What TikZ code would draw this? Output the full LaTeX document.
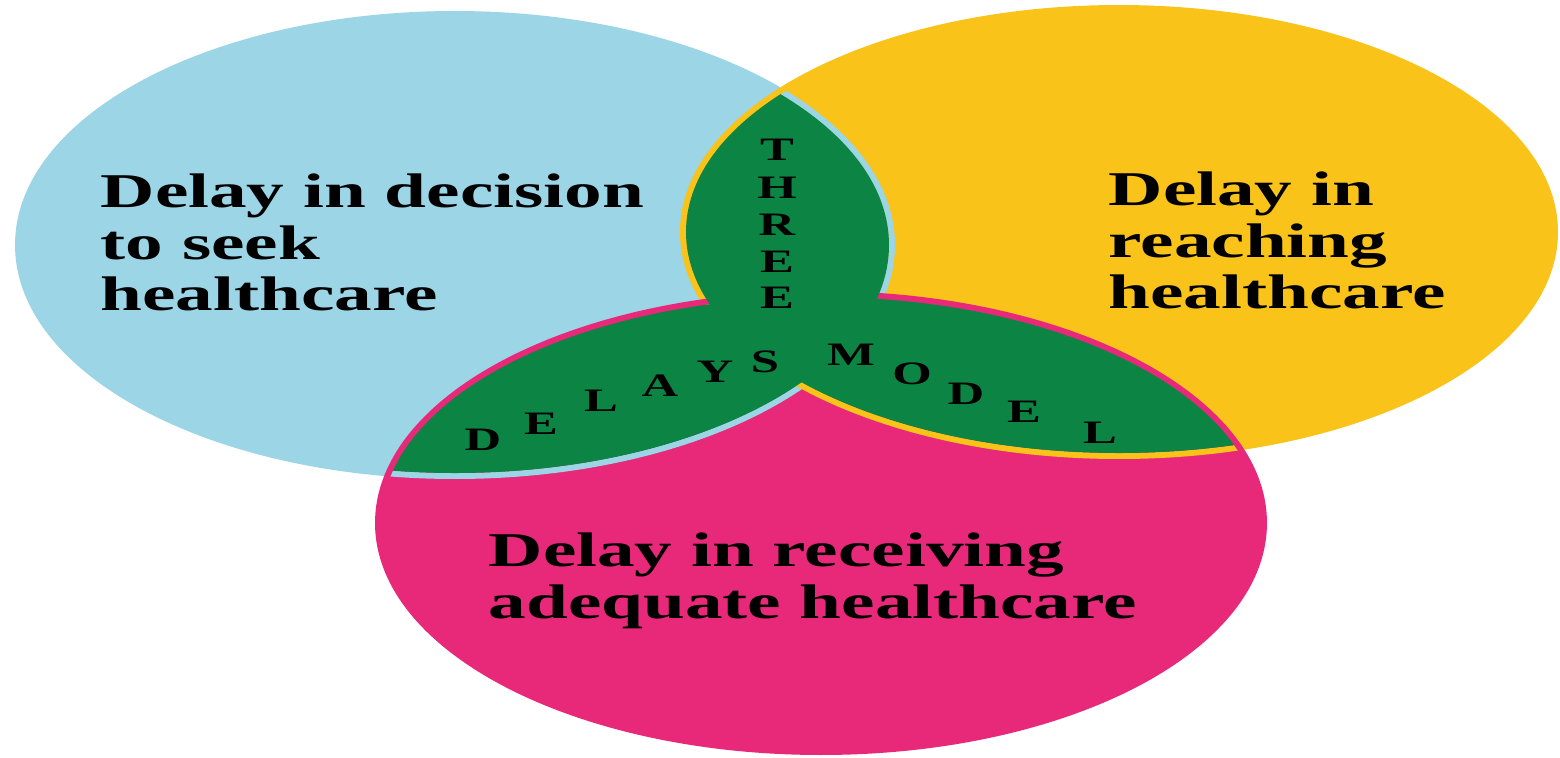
\documentclass[tikz,border=0pt]{standalone}
\usepackage{fontspec}
\usepackage{xcolor}
\usepackage{tikz}
\tikzset{>=latex}
\newfontfamily\delayfont[FakeStretch=1.55]{Liberation Serif Bold}
\definecolor{seekblue}{HTML}{9BD5E6}
\definecolor{reachyellow}{HTML}{F9C31A}
\definecolor{carepink}{HTML}{E8297A}
\definecolor{modelgreen}{HTML}{0B8444}

\begin{document}
\begin{tikzpicture}[x=0.01cm,y=-0.01cm,
  delay text/.style={align=left,inner sep=0pt,font=\delayfont\fontsize{13.8}{14.7}\selectfont},
  model letter/.style={inner sep=0pt,font=\delayfont\fontsize{9.3}{10}\selectfont},
  rim/.style={line width=1.7pt}]
\useasboundingbox (0,0) rectangle (1560,757);
\fill[white] (0,0) rectangle (1560,757);
\coordinate (seek) at (455,245);
\coordinate (reach) at (1119,232);
\coordinate (care) at (821,523);
% the three delays
\fill[seekblue] (seek) ellipse [x radius=437, y radius=231];
\fill[reachyellow] (reach) ellipse [x radius=436, y radius=224];
\fill[carepink] (care) ellipse [x radius=443, y radius=229];
\draw[rim,seekblue] (seek) ellipse [x radius=437, y radius=231];
\draw[rim,reachyellow] (reach) ellipse [x radius=436, y radius=224];
\draw[rim,carepink] (care) ellipse [x radius=443, y radius=229];
% overlaps
\begin{scope}
\clip (seek) ellipse [x radius=434, y radius=228];
\fill[modelgreen] (reach) ellipse [x radius=433, y radius=221];
\end{scope}
\begin{scope}
\clip (seek) ellipse [x radius=434, y radius=228];
\fill[modelgreen] (care) ellipse [x radius=440, y radius=226];
\end{scope}
\begin{scope}
\clip (reach) ellipse [x radius=433, y radius=221];
\fill[modelgreen] (care) ellipse [x radius=440, y radius=226];
\end{scope}
% labels
\node[delay text,anchor=north west] (decision) at (100,173) {Delay in decision\\to seek\\healthcare};
\node[delay text,anchor=north west] (reaching) at (1108,171) {Delay in\\reaching\\healthcare};
\node[delay text,anchor=north west] (receiving) at (488,532) {Delay in receiving\\adequate healthcare};
% three delays model
\foreach \ch/\px/\py [count=\i] in {T/777/150,H/777/188,R/777/225,E/777/262,E/777/298}
  \node[model letter] (three\i) at (\px,\py) {\ch};
\foreach \ch/\px/\py [count=\i] in {D/483/440,E/541/424,L/601/401,A/660/386,Y/715/372,S/765/362}
  \node[model letter] (delays\i) at (\px,\py) {\ch};
\foreach \ch/\px/\py [count=\i] in {M/851/355,O/912/374,D/966/394,E/1024/412,L/1100/433}
  \node[model letter] (model\i) at (\px,\py) {\ch};
\end{tikzpicture}
\end{document}
